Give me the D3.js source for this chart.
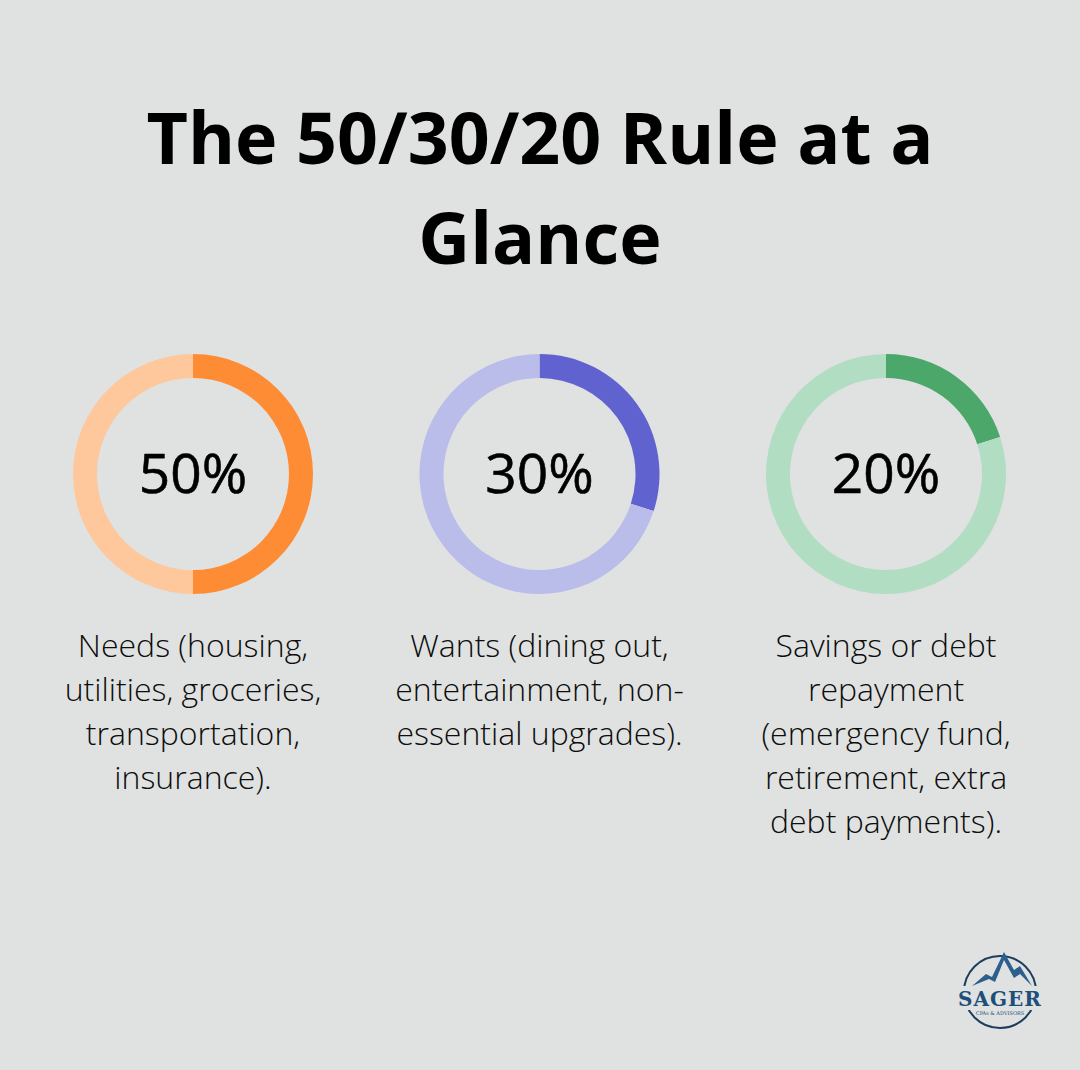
<!DOCTYPE html>
<html>
<head>
<meta charset="utf-8">
<script src="https://cdn.jsdelivr.net/npm/d3@7"></script>
<style>
  html, body { margin: 0; padding: 0; background: #e0e2e1; }
  svg { display: block; }
</style>
</head>
<body>
<div id="chart"></div>
<script>
var
  TITLE_LINES = ["The 50/30/20 Rule at a", "Glance"],
  categories = ["Needs", "Wants", "Savings"],
  shares = [50, 30, 20],
  labels = [
    ["Needs (housing,", "utilities, groceries,", "transportation,", "insurance)."],
    ["Wants (dining out,", "entertainment, non-", "essential upgrades)."],
    ["Savings or debt", "repayment", "(emergency fund,", "retirement, extra", "debt payments)."]
  ],
  darkColors = ["#fe8c35", "#6063cf", "#4ca76b"],
  lightColors = ["#ffc89c", "#babcea", "#b1ddc3"],

  WIDTH = 1080,
  HEIGHT = 1070,
  BACKGROUND = "#e0e2e1",
  OUTER_R = 120,
  INNER_R = 96,
  DONUT_Y = 474,
  FONT = "'Open Sans', 'Noto Sans', sans-serif";

var svg = d3.select("#chart").append("svg")
  .attr("width", WIDTH)
  .attr("height", HEIGHT);

svg.append("rect")
  .attr("width", WIDTH)
  .attr("height", HEIGHT)
  .attr("fill", BACKGROUND);

// title
svg.append("g").selectAll("text")
  .data(TITLE_LINES)
  .join("text")
  .attr("x", WIDTH / 2)
  .attr("y", function(d, i){ return 164 + i * 100; })
  .attr("text-anchor", "middle")
  .attr("font-family", FONT)
  .attr("font-weight", 700)
  .attr("font-size", 71.7)
  .attr("fill", "#000")
  .text(function(d){ return d; });

var x = d3.scalePoint()
  .domain(categories)
  .range([193, 886]);

var pie = d3.pie().sort(null).value(function(d){ return d; });
var arc = d3.arc().innerRadius(INNER_R).outerRadius(OUTER_R);

categories.forEach(function(cat, i){
  var g = svg.append("g")
    .attr("transform", "translate(" + x(cat) + "," + DONUT_Y + ")");

  var slices = pie([shares[i], 100 - shares[i]]);
  g.selectAll("path")
    .data(slices)
    .join("path")
    .attr("d", arc)
    .attr("fill", function(d, j){ return j === 0 ? darkColors[i] : lightColors[i]; });

  g.append("text")
    .attr("y", 19)
    .attr("text-anchor", "middle")
    .attr("font-family", FONT)
    .attr("font-weight", 400)
    .attr("font-size", 55)
    .attr("fill", "#000")
    .attr("stroke", "#000")
    .attr("stroke-width", 0.6)
    .text(shares[i] + "%");

  svg.append("g").selectAll("text")
    .data(labels[i])
    .join("text")
    .attr("x", x(cat))
    .attr("y", function(d, k){ return 657 + k * 44; })
    .attr("text-anchor", "middle")
    .attr("font-family", FONT)
    .attr("font-weight", 300)
    .attr("font-size", 32)
    .attr("fill", "#0d0d0d")
    .text(function(d){ return d; });
});

// logo
var logo = svg.append("g").attr("transform", "translate(1000,992)");
logo.append("circle")
  .attr("r", 36)
  .attr("fill", "none")
  .attr("stroke", "#1d3d5f")
  .attr("stroke-width", 2);
logo.append("rect")
  .attr("x", -44).attr("y", -6).attr("width", 88).attr("height", 24)
  .attr("fill", BACKGROUND);
logo.append("path")
  .attr("d", "M-28,-6 L-14,-18 L-8,-15 L4,-40 L14,-22 L20,-26 L32,-6 L20,-18 L14,-14 L4,-32 L-5,-10 L-11,-13 Z")
  .attr("fill", "#2c5f8d");
logo.append("text")
  .attr("y", 14)
  .attr("text-anchor", "middle")
  .attr("font-family", "'DejaVu Serif', 'Liberation Serif', serif")
  .attr("font-weight", 700)
  .attr("font-size", 20)
  .attr("letter-spacing", 1)
  .attr("fill", "#1e4f7c")
  .text("SAGER");
logo.append("text")
  .attr("y", 23)
  .attr("text-anchor", "middle")
  .attr("font-family", "'DejaVu Serif', serif")
  .attr("font-size", 5)
  .attr("fill", "#1e4f7c")
  .text("CPAs & ADVISORS");
</script>
</body>
</html>
